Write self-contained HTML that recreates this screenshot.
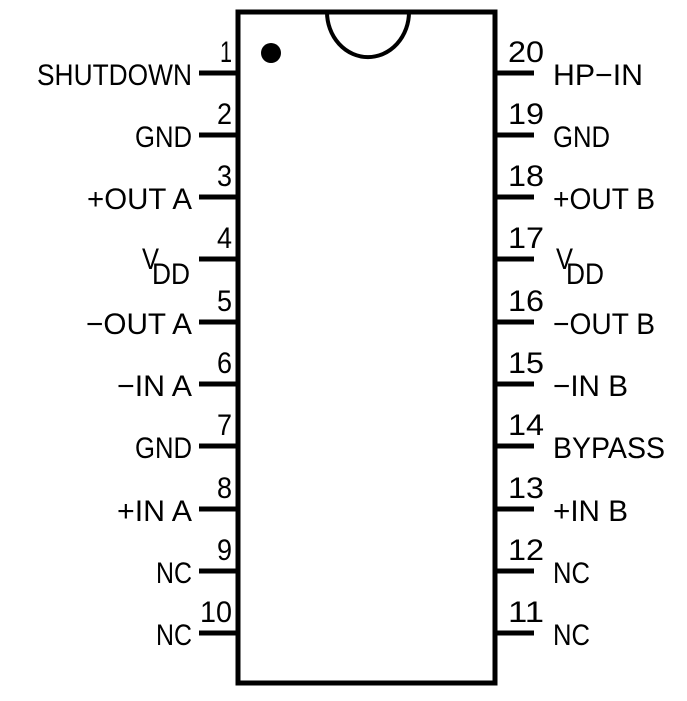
<!DOCTYPE html>
<html><head><meta charset="utf-8"><style>
html,body{margin:0;padding:0;background:#fff;}
svg{display:block}
text{font-family:"Liberation Sans",sans-serif;font-size:30px;fill:#000;}
</style></head><body>
<svg width="687" height="701" viewBox="0 0 687 701" xmlns="http://www.w3.org/2000/svg">
<rect x="238" y="12" width="257" height="671" fill="none" stroke="#000" stroke-width="5"/>
<path d="M327 12 A40 44 0 0 0 409 12" fill="none" stroke="#000" stroke-width="4"/>
<circle cx="271" cy="53" r="10" fill="#000"/>
<g stroke="#000" stroke-width="5">
<line x1="199" y1="73" x2="238" y2="73"/><line x1="199" y1="135" x2="238" y2="135"/>
<line x1="199" y1="197" x2="238" y2="197"/><line x1="199" y1="259" x2="238" y2="259"/>
<line x1="199" y1="322" x2="238" y2="322"/><line x1="199" y1="384" x2="238" y2="384"/>
<line x1="199" y1="446" x2="238" y2="446"/><line x1="199" y1="509" x2="238" y2="509"/>
<line x1="199" y1="571" x2="238" y2="571"/><line x1="199" y1="633" x2="238" y2="633"/>
<line x1="495" y1="73" x2="534" y2="73"/><line x1="495" y1="135" x2="534" y2="135"/>
<line x1="495" y1="197" x2="534" y2="197"/><line x1="495" y1="259" x2="534" y2="259"/>
<line x1="495" y1="322" x2="534" y2="322"/><line x1="495" y1="384" x2="534" y2="384"/>
<line x1="495" y1="446" x2="534" y2="446"/><line x1="495" y1="509" x2="534" y2="509"/>
<line x1="495" y1="571" x2="534" y2="571"/><line x1="495" y1="633" x2="534" y2="633"/>
</g>
<g text-anchor="end">
<text x="232" y="62" textLength="12" lengthAdjust="spacingAndGlyphs">1</text>
<text x="232" y="124" textLength="15" lengthAdjust="spacingAndGlyphs">2</text>
<text x="232" y="186" textLength="15" lengthAdjust="spacingAndGlyphs">3</text>
<text x="232" y="248" textLength="15" lengthAdjust="spacingAndGlyphs">4</text>
<text x="232" y="311" textLength="15" lengthAdjust="spacingAndGlyphs">5</text>
<text x="232" y="373" textLength="15" lengthAdjust="spacingAndGlyphs">6</text>
<text x="232" y="435" textLength="15" lengthAdjust="spacingAndGlyphs">7</text>
<text x="232" y="498" textLength="15" lengthAdjust="spacingAndGlyphs">8</text>
<text x="232" y="560" textLength="15" lengthAdjust="spacingAndGlyphs">9</text>
<text x="232" y="622" textLength="32" lengthAdjust="spacingAndGlyphs">10</text>
</g>
<g>
<text x="37" y="85" textLength="155" lengthAdjust="spacingAndGlyphs">SHUTDOWN</text>
<text x="135" y="147" textLength="57" lengthAdjust="spacingAndGlyphs">GND</text>
<text x="87" y="209" textLength="105" lengthAdjust="spacingAndGlyphs">+OUT A</text>
<text x="142" y="269" textLength="17" lengthAdjust="spacingAndGlyphs">V</text><text x="152" y="284" textLength="38" lengthAdjust="spacingAndGlyphs">DD</text>
<text x="86" y="334" textLength="106" lengthAdjust="spacingAndGlyphs">−OUT A</text>
<text x="117" y="396" textLength="75" lengthAdjust="spacingAndGlyphs">−IN A</text>
<text x="135" y="458" textLength="57" lengthAdjust="spacingAndGlyphs">GND</text>
<text x="117" y="521" textLength="75" lengthAdjust="spacingAndGlyphs">+IN A</text>
<text x="156" y="583" textLength="36" lengthAdjust="spacingAndGlyphs">NC</text>
<text x="156" y="645" textLength="36" lengthAdjust="spacingAndGlyphs">NC</text>
</g>
<g>
<text x="508" y="62" textLength="36" lengthAdjust="spacingAndGlyphs">20</text>
<text x="508" y="124" textLength="36" lengthAdjust="spacingAndGlyphs">19</text>
<text x="508" y="186" textLength="36" lengthAdjust="spacingAndGlyphs">18</text>
<text x="508" y="248" textLength="36" lengthAdjust="spacingAndGlyphs">17</text>
<text x="508" y="311" textLength="36" lengthAdjust="spacingAndGlyphs">16</text>
<text x="508" y="373" textLength="36" lengthAdjust="spacingAndGlyphs">15</text>
<text x="508" y="435" textLength="36" lengthAdjust="spacingAndGlyphs">14</text>
<text x="508" y="498" textLength="36" lengthAdjust="spacingAndGlyphs">13</text>
<text x="508" y="560" textLength="36" lengthAdjust="spacingAndGlyphs">12</text>
<text x="508" y="622" textLength="36" lengthAdjust="spacingAndGlyphs">11</text>
<text x="553" y="85" textLength="90" lengthAdjust="spacingAndGlyphs">HP−IN</text>
<text x="553" y="147" textLength="57" lengthAdjust="spacingAndGlyphs">GND</text>
<text x="553" y="209" textLength="102" lengthAdjust="spacingAndGlyphs">+OUT B</text>
<text x="556" y="269" textLength="17" lengthAdjust="spacingAndGlyphs">V</text><text x="566" y="284" textLength="38" lengthAdjust="spacingAndGlyphs">DD</text>
<text x="553" y="334" textLength="102" lengthAdjust="spacingAndGlyphs">−OUT B</text>
<text x="553" y="396" textLength="75" lengthAdjust="spacingAndGlyphs">−IN B</text>
<text x="553" y="458" textLength="112" lengthAdjust="spacingAndGlyphs">BYPASS</text>
<text x="553" y="521" textLength="75" lengthAdjust="spacingAndGlyphs">+IN B</text>
<text x="553" y="583" textLength="37" lengthAdjust="spacingAndGlyphs">NC</text>
<text x="553" y="645" textLength="37" lengthAdjust="spacingAndGlyphs">NC</text>
</g>
</svg>
</body></html>
